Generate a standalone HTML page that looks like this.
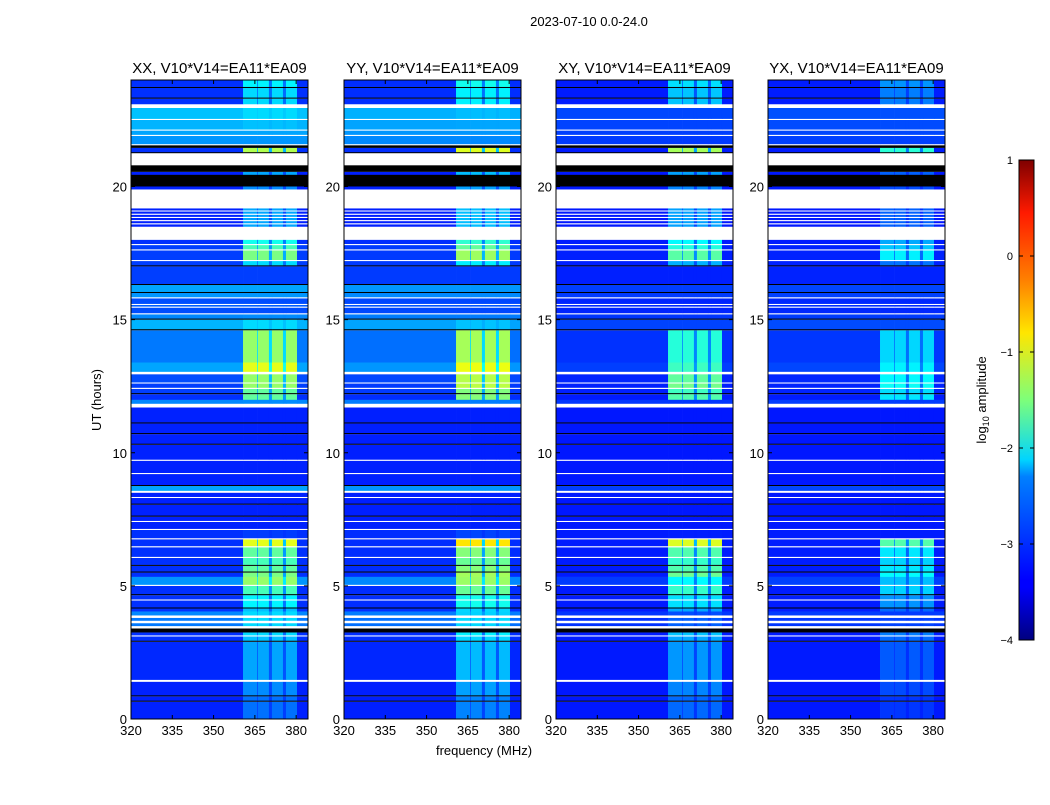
<!DOCTYPE html>
<html><head><meta charset="utf-8"><style>
body{margin:0;background:#fff;width:1050px;height:800px;overflow:hidden;font-family:"Liberation Sans",sans-serif}
svg text{font-family:"Liberation Sans","DejaVu Sans",sans-serif}
</style></head><body>
<svg id="chart" width="1050" height="800" xmlns="http://www.w3.org/2000/svg">
<defs><linearGradient id="jet" x1="0" y1="1" x2="0" y2="0">
<stop offset="0" stop-color="#00007f"/><stop offset="0.11" stop-color="#0000ff"/><stop offset="0.125" stop-color="#0000ff"/><stop offset="0.34" stop-color="#0080ff"/><stop offset="0.375" stop-color="#00d4ff"/><stop offset="0.5" stop-color="#7dff7a"/><stop offset="0.64" stop-color="#ffe600"/><stop offset="0.75" stop-color="#ff8000"/><stop offset="0.89" stop-color="#ff1a00"/><stop offset="1" stop-color="#7f0000"/></linearGradient></defs>
<text x="589" y="26" font-size="13" text-anchor="middle">2023-07-10 0.0-24.0</text>
<g id="panels"></g>
<rect x="1019" y="160" width="15" height="480" fill="url(#jet)" stroke="#000" stroke-width="1"/>
<g id="cbticks"></g>
<text transform="translate(986,400) rotate(-90)" font-size="13" text-anchor="middle">log<tspan font-size="9" dy="3">10</tspan><tspan dy="-3"> amplitude</tspan></text>
<text transform="translate(101,400) rotate(-90)" font-size="13" text-anchor="middle">UT (hours)</text>
<text x="484" y="755" font-size="13" text-anchor="middle">frequency (MHz)</text>
</svg>
<script>
const panelTitles=["XX, V10*V14=EA11*EA09","YY, V10*V14=EA11*EA09","XY, V10*V14=EA11*EA09","YX, V10*V14=EA11*EA09"];
const panelBgGain=[1,0.9,0.3,0.35];
const panelBandGain=[1,1.1,1.05,0.8];
const bands=[[360.7,365.8],[366.1,370.1],[371.2,375.2],[376.3,380.3]];
const xTicks=[320,335,350,365,380];
const yTicks=[0,5,10,15,20];
const cbTicks=[1,0,-1,-2,-3,-4];
const segments=[
[0,0.65,-3.2,-2.4],[0.65,0.7,'K'],[0.7,0.85,-3.2,-2.4],[0.85,0.9,'K'],[0.9,1.4,-3.2,-2.3],[1.4,1.48,'W'],[1.48,2.9,-3.15,-2.2],[2.9,2.95,'K'],[2.95,3.1,-3.1,-2.1],[3.1,3.15,'W'],[3.15,3.25,-3.1,-2.0],[3.25,3.4,'K'],
[3.4,3.5,'W'],[3.5,3.6,-2.6,-2.0],[3.6,3.7,'W'],[3.7,3.8,-2.6,-2.0],[3.8,3.9,'W'],[3.9,4.05,-2.5,-2.0],[4.05,4.15,-3.1,-2.1],[4.15,4.2,'K'],[4.2,4.45,-3.1,-1.9],[4.45,4.5,'W'],[4.5,4.65,-3.1,-1.9],[4.65,4.7,'K'],[4.7,5.0,-3.1,-1.6],[5.0,5.05,'W'],[5.05,5.35,-2.4,-1.3],[5.35,5.5,-3.1,-1.4],[5.5,5.55,'K'],[5.55,5.75,-3.1,-1.5],[5.75,5.8,'K'],[5.8,6.05,-3.1,-1.6],[6.05,6.1,'W'],[6.1,6.45,-3.1,-1.5],[6.45,6.5,'W'],[6.5,6.75,-3.1,-1.0],[6.75,6.8,'W'],[6.8,7.1,-3.1,-2.6],[7.1,7.15,'W'],[7.15,7.4,-3.2,-2.8],[7.4,7.45,'W'],[7.45,7.6,-3.2,-2.8],[7.6,7.65,'K'],[7.65,8.05,-3.2,-2.9],[8.05,8.1,'K'],[8.1,8.3,-3.2,-2.9],[8.3,8.35,'W'],[8.35,8.5,-3.2,-2.9],[8.5,8.58,'W'],[8.58,8.75,-2.3,-2.3],[8.75,8.8,'K'],[8.8,9.2,-3.2,-2.9],[9.2,9.25,'W'],[9.25,9.7,-3.2,-2.9],[9.7,9.75,'W'],[9.75,10.3,-3.2,-2.9],[10.3,10.35,'K'],[10.35,10.7,-3.2,-2.8],[10.7,10.75,'K'],[10.75,11.1,-3.2,-2.8],[11.1,11.15,'K'],[11.15,11.7,-3.2,-2.8],[11.7,11.85,'W'],[11.85,12.0,-2.5,-2.3],
[12.0,12.2,-3.1,-1.5],[12.2,12.25,'K'],[12.25,12.4,-3.0,-1.5],[12.4,12.45,'W'],[12.45,12.6,-3.0,-1.3],[12.6,12.65,'W'],[12.65,12.95,-2.9,-1.3],[12.95,13.05,'W'],[13.05,13.4,-2.3,-1.0],[13.4,14.6,-2.6,-1.3],[14.6,14.65,'K'],[14.65,15.0,-2.2,-2.0],[15.0,15.05,'K'],[15.05,15.2,-2.5,-2.3],[15.2,15.25,'W'],[15.25,15.45,-2.9,-2.6],[15.45,15.5,'W'],[15.5,15.55,-2.8,-2.6],[15.55,15.6,'W'],[15.6,15.8,-2.9,-2.6],[15.8,15.85,'W'],[15.85,16.0,-2.4,-2.3],[16.0,16.05,'K'],[16.05,16.3,-2.3,-2.3],[16.3,16.35,'K'],[16.35,17.0,-3.0,-2.7],[17.0,17.05,'K'],[17.05,17.2,-3.0,-2.0],[17.2,17.25,'W'],[17.25,17.6,-3.0,-1.4],[17.6,17.65,'W'],[17.65,17.8,-3.0,-1.6],[17.8,17.85,'W'],[17.85,18.0,-3.1,-1.8],[18.0,18.5,'W'],
[18.5,18.58,-3.2,-2.2],[18.58,18.63,'W'],[18.63,18.7,-3.2,-2.2],[18.7,18.75,'W'],[18.75,18.82,-3.2,-2.2],[18.82,18.87,'W'],[18.87,18.94,-3.2,-2.2],[18.94,18.99,'W'],[18.99,19.06,-3.2,-2.2],[19.06,19.11,'W'],[19.11,19.18,-3.2,-2.2],
[19.18,19.9,'W'],[19.9,20.0,-3.2,-2.3],[20.0,20.45,'K'],[20.45,20.55,-3.2,-2.2],[20.55,20.8,'K'],[20.8,21.25,'W'],[21.25,21.3,'K'],[21.3,21.45,-3.1,-1.2],[21.45,21.55,'K'],[21.55,21.6,'W'],[21.6,21.9,-2.4,-2.3],[21.9,21.95,'W'],[21.95,22.1,-2.3,-2.3],[22.1,22.15,'W'],[22.15,22.5,-2.2,-2.1],[22.5,22.55,'W'],[22.55,22.95,-2.1,-2.0],[22.95,23.1,'W'],[23.1,23.3,-3.1,-2.0],[23.3,23.35,'K'],[23.35,23.7,-3.1,-2.0],[23.7,23.75,'K'],[23.75,24,-3.1,-1.9]];

const NS="http://www.w3.org/2000/svg";
const panelLeft=[131,344,556,768], PW=177, PT=80, PB=719;
const fMin=320,fMax=384.3,hMax=24;
function jet(v){let t=Math.max(0,Math.min(1,(v+4)/5));
 const c=x=>Math.round(255*Math.max(0,Math.min(1,x)));
 return `rgb(${c(1.5-Math.abs(4*t-3))},${c(1.5-Math.abs(4*t-2))},${c(1.5-Math.abs(4*t-1))})`;}
function mk(tag,attrs,parent){const e=document.createElementNS(NS,tag);for(const k in attrs)e.setAttribute(k,attrs[k]);parent.appendChild(e);return e;}
const root=document.getElementById('panels');
panelLeft.forEach((L,p)=>{
 const xs=f=>L+(f-fMin)/(fMax-fMin)*PW;
 const ys=h=>PB-h/hMax*(PB-PT);
 const g=mk('g',{},root);
 
 
 segments.forEach(s=>{
  const y0=ys(s[1]),y1=ys(s[0]);
  if(typeof s[2]==='string'){
   const r=mk('rect',{x:L,y:y0,width:PW,height:y1-y0,fill:s[2]==='K'?'#000':'#fff'},g);
   
   
   return;}
  const bgRaw=-3.3+(s[2]+3.3)*panelBgGain[p];
  const bg=-3.25+(bgRaw+3.25)*0.72;
  let bd=bgRaw+(s[3]-s[2])*panelBandGain[p];
  bd=bd-0.3*(-1-bd);
  if(bd<bg)bd=bg;
  const gap=bg+(bd-bg)*0.35;
  const parts=[[fMin,bands[0][0],bg]];
  bands.forEach((b,i)=>{parts.push([b[0],b[1],bd]);if(i<bands.length-1)parts.push([b[1],bands[i+1][0],gap]);});
  parts.push([bands[bands.length-1][1],fMax,bg]);
  parts.forEach(q=>{const r=mk('rect',{x:xs(q[0]),y:y0,width:xs(q[1])-xs(q[0])+0.3,height:y1-y0+0.3,fill:jet(q[2])},g);
   
   });
 });
 const fr=mk('rect',{x:L,y:PT,width:PW,height:PB-PT,fill:'none',stroke:'#000','stroke-width':1},g);
 
 
 const t=mk('text',{x:L+PW/2,y:73,'font-size':15,'text-anchor':'middle'},g);t.textContent=panelTitles[p];
 
 
 xTicks.forEach(f=>{const x=xs(f);mk('line',{x1:x,x2:x,y1:PB,y2:PB-4,stroke:'#000'},g);mk('line',{x1:x,x2:x,y1:PT,y2:PT+4,stroke:'#000'},g);
  const tx=mk('text',{x:x,y:PB+16,'font-size':13,'text-anchor':'middle'},g);tx.textContent=f;
  
  });
 yTicks.forEach(h=>{const y=ys(h);mk('line',{x1:L,x2:L+4,y1:y,y2:y,stroke:'#000'},g);mk('line',{x1:L+PW,x2:L+PW-4,y1:y,y2:y,stroke:'#000'},g);
  const tx=mk('text',{x:L-4,y:y+5,'font-size':13,'text-anchor':'end'},g);tx.textContent=h;
  
  });
});
const cb=document.getElementById('cbticks');
cbTicks.forEach(v=>{const y=640-(v+4)/5*480;
 mk('line',{x1:1019,x2:1023,y1:y,y2:y,stroke:'#000'},cb);mk('line',{x1:1034,x2:1030,y1:y,y2:y,stroke:'#000'},cb);
 const tx=mk('text',{x:1013,y:y+4,'font-size':11,'text-anchor':'end'},cb);tx.textContent=v<0?'\u2212'+(-v):v;
 
 });
</script>
</body></html>
